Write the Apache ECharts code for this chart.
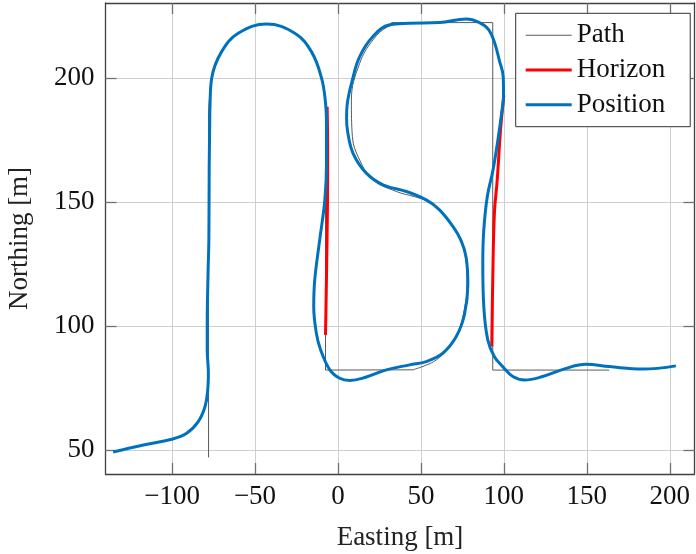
<!DOCTYPE html>
<html>
<head>
<meta charset="utf-8">
<script src="https://cdn.jsdelivr.net/npm/echarts@6/dist/echarts.min.js"></script>
<style>
  html, body { margin: 0; padding: 0; background: #fff; }
  #chart { width: 696px; height: 554px; }
</style>
</head>
<body>
<div id="chart"></div>
<script>
// Axis extents and tick positions (metres)
const xRange = [-140.1, 214.9];
const yRange = [40.3, 230.2];
const xTicks = [-100, -50, 0, 50, 100, 150, 200];
const yTicks = [50, 100, 150, 200];

// Reference path: straight legs and curved legs kept apart
const pathStraightA = [[-78, 47], [-78, 186]];
const pathTurnA = [[-78, 186], [-77.3, 193], [-75.8, 200.5], [-70.1, 210.6], [-60.1, 218], [-43, 221.7],
  [-26, 218], [-16, 210.6], [-10.3, 200], [-8, 192.5], [-7.5, 186]];
const pathStraightB = [[-7.5, 186], [-7.5, 82.2], [45.2, 82.3]];
const pathCurveC = [[45.2, 82.3], [53.2, 84.2], [59.3, 86.3], [66, 90.5], [72, 97], [76, 106], [77.8, 117],
  [77, 127], [74, 134], [68, 141], [60, 147.5], [53, 150.6], [46.2, 152.1], [35.2, 154.2], [21.1, 158.9],
  [13.1, 166.9], [8.7, 176.3], [8.1, 191.1], [13.1, 205.9], [21.1, 215.3], [30, 220.6], [41, 222.3]];
const pathStraightD = [[32.2, 222.3], [93.3, 222.3], [93.3, 82.2], [163.5, 82.2]];

// Predicted horizon segments
const horizonA = [[-7.5, 96.4], [-6.9, 120], [-6.3, 150], [-6.2, 170], [-6.5, 188.4]];
const horizonB = [[92.7, 91.7], [93.3, 118.5], [94.3, 145.4], [96, 158.9], [98, 179], [100, 193]];

// Measured vehicle position
const position = [
  [-135.5, 49.2], [-117.3, 52], [-100.2, 54.3], [-91.2, 56.7], [-84.2, 61.4], [-80.1, 67.5], [-78.5, 74.2],
  [-78.1, 81], [-78.8, 90.3], [-78.8, 101], [-78.3, 121], [-77.8, 135], [-77.6, 164], [-77.3, 180],
  [-77.1, 189], [-76.1, 199.9], [-70.1, 210.6], [-60.1, 218], [-43, 221.7], [-26, 218], [-16, 210.6],
  [-9.9, 200], [-7.5, 190], [-6.9, 180], [-6.9, 165.6], [-7.9, 150.8], [-11, 134.7], [-14, 118.5],
  [-14.6, 107.8], [-13, 97], [-10.5, 90.5], [-4.9, 82.3], [1.1, 78.9], [7.1, 78], [17.1, 79.4],
  [29.2, 82.3], [43.2, 84.3], [53.2, 85.6], [63.2, 89], [71.3, 95.7], [76.3, 104.7], [78.3, 116.8],
  [77.3, 127.5], [74.3, 134.3], [69.3, 140.1], [61.2, 146.8], [53.2, 150.8], [41.2, 154.2], [27.1, 156.9],
  [17.1, 161.6], [9.1, 169.6], [5.8, 178.5], [5.2, 184], [5.6, 189.5], [8.7, 199.2], [13.1, 208.6], [21.1, 216.7],
  [31.2, 221.4], [43.2, 222], [61.2, 222.3], [77.3, 223.7], [85, 222.4], [90.8, 219.5], [94.5, 214],
  [97.3, 207], [99.6, 200.5], [99.8, 193], [98.6, 185.5], [96.4, 175], [93.5, 163], [90, 152.1], [87.9, 138.7],
  [87.3, 125.3], [87.9, 107.8], [90.3, 94.4], [94.3, 87.6], [99.3, 83.6], [105.4, 79.6], [112.4, 78.2],
  [123.4, 79.6], [137.5, 82.9], [149.5, 84.5], [163.5, 83.6], [183.6, 82.6], [203.7, 83.9]
];

const FONT = '"Liberation Serif", "DejaVu Serif", serif';
const fmt = v => (v < 0 ? '\u2212' + Math.abs(v) : String(v));

const frameLine = { show: true, onZero: false, lineStyle: { color: '#404040', width: 1.3 } };
const tickStyle = (vals) => ({ show: true, inside: true, length: 11, customValues: vals,
  lineStyle: { color: '#707070', width: 1.3 } });

const pathStyle = { color: '#5a5a5a', width: 1 };
const horizonStyle = { color: '#ff0000', width: 3 };
const positionStyle = { color: '#0072bd', width: 3 };

// Legend keys: a horizontal bar inside a 46x14 box (corner specks fix the box size)
const keyIcon = (y0, y1) => 'path://M0,0L0.01,0L0.01,0.01Z M0,' + y0 + 'H46V' + y1 + 'H0Z M46,14L45.99,14L45.99,13.99Z';

function line(name, data, style, smooth, z) {
  return { name, type: 'line', data, smooth, symbol: 'none', showSymbol: false,
    lineStyle: style, itemStyle: { color: style.color }, z, animation: false,
    xAxisIndex: 0, yAxisIndex: 0 };
}

const chart = echarts.init(document.getElementById('chart'), null, { renderer: 'canvas' });
chart.setOption({
  animation: false,
  backgroundColor: '#fff',
  textStyle: { fontFamily: FONT },
  grid: { left: 105.5, right: 1.5, top: 3, bottom: 80, containLabel: false, outerBoundsMode: 'none' },
  legend: {
    data: [
      { name: 'Path', icon: keyIcon(6.5, 7.5), itemStyle: { color: '#5a5a5a' } },
      { name: 'Horizon', icon: keyIcon(5.5, 8.5), itemStyle: { color: '#ff0000' } },
      { name: 'Position', icon: keyIcon(5.5, 8.5), itemStyle: { color: '#0072bd' } }
    ],
    orient: 'vertical', left: 515.7, top: 13.3,
    padding: [7, 25, 7, 10], itemGap: 4.7, itemWidth: 46, itemHeight: 14,
    backgroundColor: '#fff', borderColor: '#333', borderWidth: 1, borderRadius: 0,
    textStyle: { fontFamily: FONT, fontSize: 27, color: '#111', lineHeight: 30 },
    selectedMode: false
  },
  xAxis: [
    { type: 'value', min: xRange[0], max: xRange[1], position: 'bottom',
      name: 'Easting [m]', nameLocation: 'middle', nameGap: 50,
      nameTextStyle: { fontFamily: FONT, fontSize: 27, color: '#222' },
      axisLine: frameLine, axisTick: tickStyle(xTicks),
      axisLabel: { customValues: xTicks, formatter: fmt, margin: 9, fontFamily: FONT, fontSize: 27, color: '#111' },
      splitLine: { show: true, lineStyle: { color: '#cfcfcf', width: 1 } } },
    { type: 'value', min: xRange[0], max: xRange[1], position: 'top',
      axisLine: frameLine, axisTick: tickStyle(xTicks),
      axisLabel: { show: false }, splitLine: { show: false } }
  ],
  yAxis: [
    { type: 'value', min: yRange[0], max: yRange[1], position: 'left',
      name: 'Northing [m]', nameLocation: 'middle', nameGap: 72,
      nameTextStyle: { fontFamily: FONT, fontSize: 27, color: '#222' },
      axisLine: frameLine, axisTick: tickStyle(yTicks),
      axisLabel: { customValues: yTicks, formatter: fmt, margin: 11, fontFamily: FONT, fontSize: 27, color: '#111' },
      splitLine: { show: true, lineStyle: { color: '#cfcfcf', width: 1 } } },
    { type: 'value', min: yRange[0], max: yRange[1], position: 'right',
      axisLine: frameLine, axisTick: tickStyle(yTicks),
      axisLabel: { show: false }, splitLine: { show: false } }
  ],
  series: [
    line('Path', pathStraightA, pathStyle, false, 2),
    line('Path', pathTurnA, pathStyle, 0.4, 2),
    line('Path', pathStraightB, pathStyle, false, 2),
    line('Path', pathCurveC, pathStyle, 0.4, 2),
    line('Path', pathStraightD, pathStyle, false, 2),
    line('Horizon', horizonA, horizonStyle, 0.4, 3),
    line('Horizon', horizonB, horizonStyle, 0.4, 3),
    line('Position', position, positionStyle, 0.4, 4)
  ]
});
</script>
</body>
</html>
